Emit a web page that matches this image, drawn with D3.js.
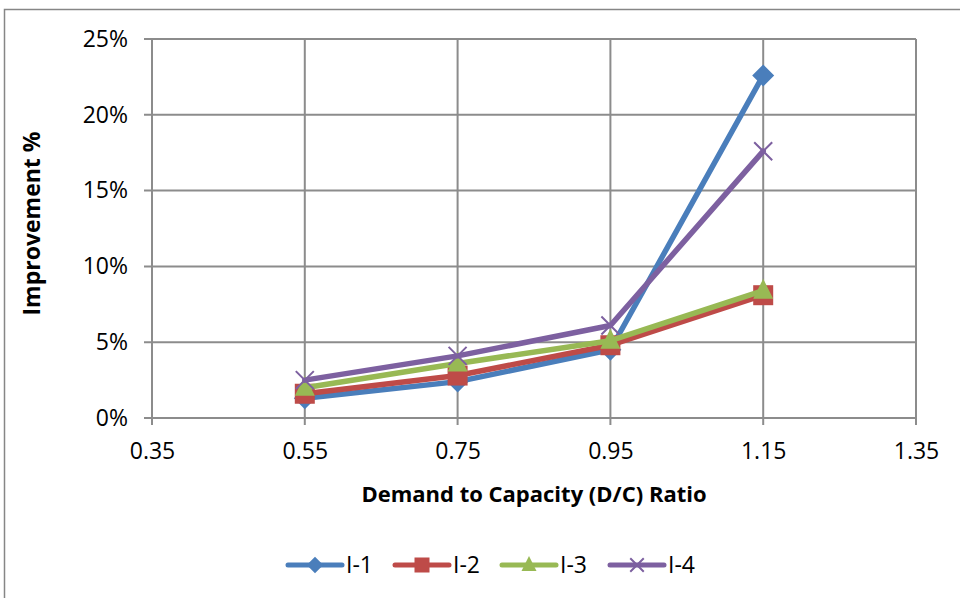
<!DOCTYPE html>
<html>
<head>
<meta charset="utf-8">
<script src="https://cdn.jsdelivr.net/npm/d3@7"></script>
<style>
  body { margin: 0; background: #fff; }
  svg { display: block; font-family: "Open Sans", "Liberation Sans", sans-serif; }
</style>
</head>
<body>
<div id="chart"></div>
<script>
const ratios = [0.55, 0.75, 0.95, 1.15];
const seriesNames = ["I-1", "I-2", "I-3", "I-4"];
const i1 = [1.3, 2.4, 4.5, 22.6];
const i2 = [1.6, 2.8, 4.8, 8.1];
const i3 = [2.0, 3.6, 5.1, 8.4];
const i4 = [2.5, 4.1, 6.1, 17.6];
const xTicks = [0.35, 0.55, 0.75, 0.95, 1.15, 1.35];
const yTicks = [0, 5, 10, 15, 20, 25];
const colors = ["#4a7ebb", "#be4b48", "#98b954", "#7d60a0"];
const shapes = ["diamond", "square", "triangle", "cross"];

const allSeries = [i1, i2, i3, i4].map((vals, k) => ({
  name: seriesNames[k], color: colors[k], shape: shapes[k],
  points: vals.map((v, j) => ({ x: ratios[j], y: v }))
}));

const W = 960, H = 598;
const margin = { top: 39, right: 44, bottom: 180, left: 152 };
const width = W - margin.left - margin.right,
      height = H - margin.top - margin.bottom;

const svg = d3.select("#chart").append("svg")
  .attr("width", W).attr("height", H);

// outer chart border
svg.append("rect")
  .attr("x", 4.5).attr("y", 9.5)
  .attr("width", W + 10).attr("height", H + 10)
  .attr("fill", "none").attr("stroke", "#868686").attr("stroke-width", 1.5);

const g = svg.append("g").attr("transform", `translate(${margin.left},${margin.top})`);

const x = d3.scaleLinear().domain([0.35, 1.35]).range([0, width]);
const y = d3.scaleLinear().domain([0, 25]).range([height, 0]);

// gridlines
g.append("g").selectAll("line").data(yTicks).enter().append("line")
  .attr("x1", -8).attr("x2", width)
  .attr("y1", d => y(d)).attr("y2", d => y(d))
  .attr("stroke", "#8c8c8c").attr("stroke-width", 2);
g.append("g").selectAll("line").data(xTicks).enter().append("line")
  .attr("y1", 0).attr("y2", height + 7)
  .attr("x1", d => x(d)).attr("x2", d => x(d))
  .attr("stroke", "#8c8c8c").attr("stroke-width", 2);

// tick labels
const yAxis = g.append("g")
  .call(d3.axisLeft(y).tickValues(yTicks).tickFormat(d => d + "%").tickSize(0).tickPadding(24));
const xAxis = g.append("g").attr("transform", `translate(0,${height})`)
  .call(d3.axisBottom(x).tickValues(xTicks).tickFormat(d3.format(".2f")).tickSize(0).tickPadding(25));
[yAxis, xAxis].forEach(a => {
  a.select(".domain").remove();
  a.attr("font-size", null).attr("font-family", null);
  a.selectAll("text").style("font-size", "23px").attr("fill", "#000");
});

// axis titles
g.append("text")
  .attr("x", width / 2).attr("y", height + 84)
  .attr("text-anchor", "middle").style("font-size", "22px").attr("font-weight", "bold")
  .text("Demand to Capacity (D/C) Ratio");
g.append("text")
  .attr("transform", `translate(${-112},${height / 2 - 5}) rotate(-90)`)
  .attr("text-anchor", "middle").style("font-size", "23px").attr("font-weight", "bold")
  .text("Improvement %");

const line = d3.line().x(d => x(d.x)).y(d => y(d.y));

function drawMarker(sel, shape, color, s) {
  if (shape === "diamond") {
    sel.append("path").attr("d", `M0,${-11 * s}L${11 * s},0L0,${11 * s}L${-11 * s},0Z`).attr("fill", color);
  } else if (shape === "square") {
    sel.append("rect").attr("x", -10 * s).attr("y", -10 * s)
      .attr("width", 20 * s).attr("height", 20 * s).attr("fill", color);
  } else if (shape === "triangle") {
    sel.append("path").attr("d", `M0,${-12 * s}L${10 * s},${8 * s}L${-10 * s},${8 * s}Z`).attr("fill", color);
  } else {
    sel.append("path").attr("d", `M${-9 * s},${-9 * s}L${9 * s},${9 * s}M${-9 * s},${9 * s}L${9 * s},${-9 * s}`)
      .attr("stroke", color).attr("stroke-width", 2).attr("fill", "none");
  }
}

allSeries.forEach(s => {
  g.append("path").datum(s.points)
    .attr("d", line).attr("fill", "none")
    .attr("stroke", s.color).attr("stroke-width", 5.5)
    .attr("stroke-linejoin", "round").attr("stroke-linecap", "round");
  g.append("g").selectAll("g").data(s.points).enter().append("g")
    .attr("transform", d => `translate(${x(d.x)},${y(d.y)})`)
    .each(function () { drawMarker(d3.select(this), s.shape, s.color, 1); });
});

// legend
const legendX = [288, 395, 502, 610];
const legend = svg.append("g").attr("transform", "translate(0,565)")
  .selectAll("g").data(allSeries).enter().append("g")
  .attr("transform", (d, i) => `translate(${legendX[i]},0)`);
legend.append("line").attr("x1", 0).attr("x2", 54).attr("y1", 0).attr("y2", 0)
  .attr("stroke", d => d.color).attr("stroke-width", 5).attr("stroke-linecap", "round");
legend.append("g").attr("transform", "translate(27,0)")
  .each(function (d) { drawMarker(d3.select(this), d.shape, d.color, 0.75); });
legend.append("text").attr("x", 58).attr("y", 0).attr("dy", "0.36em")
  .style("font-size", "23px").text(d => d.name);
</script>
</body>
</html>
